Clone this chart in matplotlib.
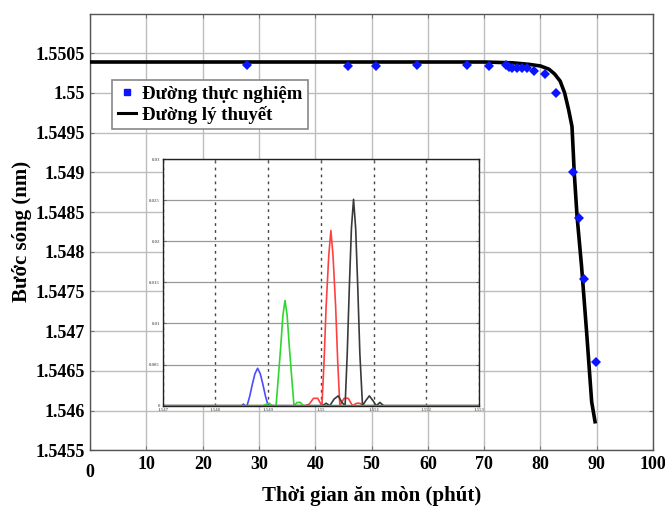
import matplotlib
matplotlib.use("Agg")
import matplotlib.pyplot as plt
from matplotlib.lines import Line2D

plt.rcParams["font.family"] = ["Liberation Serif", "DejaVu Serif"]
plt.rcParams["font.weight"] = "bold"

# Main chart: measured points (etching time, wavelength)
exp_time = [27.9, 45.8, 50.7, 58.0, 66.9, 70.9, 73.9, 74.4, 75.0, 75.9, 76.8,
            77.7, 78.9, 80.8, 82.8, 85.8, 86.9, 87.8, 89.9]
exp_wl = [1.55035, 1.55034, 1.55034, 1.55035, 1.55035, 1.55034, 1.55035, 1.55033,
          1.55032, 1.55032, 1.55031, 1.55031, 1.55028, 1.55024, 1.55000,
          1.54900, 1.54843, 1.54766, 1.54661]

# Theoretical curve
th_time = [0, 20, 40, 60, 70, 75, 78, 80, 81.5, 82.5, 83.5, 84.3, 85.0, 85.6,
           85.8, 86.0, 86.5, 87.3, 88.2, 89.1, 89.7]
th_wl = [1.55039, 1.55039, 1.55039, 1.55039, 1.55039, 1.55038, 1.55036, 1.55034,
         1.55030, 1.55024, 1.55015, 1.55000, 1.54979, 1.54958, 1.54930, 1.54900,
         1.54845, 1.54782, 1.54699, 1.54611, 1.54586]

x_ticks = [0, 10, 20, 30, 40, 50, 60, 70, 80, 90, 100]
y_ticks = [1.5455, 1.546, 1.5465, 1.547, 1.5475, 1.548, 1.5485, 1.549, 1.5495, 1.55, 1.5505]
y_ticklabels = ["1.5455", "1.546", "1.5465", "1.547", "1.5475", "1.548", "1.5485",
                "1.549", "1.5495", "1.55", "1.5505"]

# Inset: reflection spectra
blue_wl = [1.547, 1.5485, 1.54853, 1.54856, 1.5486, 1.54865, 1.5487, 1.54875, 1.5488,
           1.54885, 1.5489, 1.54895, 1.549, 1.553]
blue_amp = [0, 0, 0.0002, 0, 0, 0.00114, 0.0026, 0.0039, 0.00455,
            0.0039, 0.0026, 0.00114, 0, 0]

green_wl = [1.547, 1.5489, 1.54902, 1.54908, 1.54915, 1.54919, 1.54924, 1.54928, 1.54932,
            1.54936, 1.5494, 1.54945, 1.54949, 1.54955, 1.54961, 1.54967, 1.553]
green_amp = [0, 0, 0.0003, 0, 0, 0.0032, 0.0073, 0.011, 0.0128,
             0.011, 0.0073, 0.0032, 0, 0.0004, 0.0004, 0, 0]

red_wl = [1.547, 1.5497, 1.54978, 1.54986, 1.54994, 1.55002, 1.55006, 1.5501, 1.55015,
          1.55019, 1.55023, 1.55028, 1.55032, 1.55036, 1.55044, 1.55052, 1.5506,
          1.55068, 1.55074, 1.5508, 1.553]
red_amp = [0, 0, 0.0002, 0.0009, 0.0009, 0, 0.0053, 0.0121, 0.0183,
           0.0213, 0.0183, 0.0121, 0.0053, 0, 0.0009, 0.0009, 0, 0.0003, 0.0003, 0, 0]

black_wl = [1.547, 1.55003, 1.5501, 1.55017, 1.55025, 1.55033, 1.5504, 1.55046, 1.5505,
            1.55054, 1.55058, 1.55062, 1.55066, 1.5507, 1.55074, 1.55079, 1.55085,
            1.55092, 1.55099, 1.55105, 1.55112, 1.55119, 1.553]
black_amp = [0, 0, 0.0003, 0, 0.0008, 0.0012, 0.0004, 0, 0.0063,
             0.0144, 0.0216, 0.0251, 0.0216, 0.0144, 0.0063, 0, 0.0006,
             0.0012, 0.0006, 0, 0.0004, 0, 0]

inset_xticks = [1.547, 1.548, 1.549, 1.55, 1.551, 1.552, 1.553]
inset_xlabels = ["1.547", "1.548", "1.549", "1.55", "1.551", "1.552", "1.553"]
inset_yticks = [0, 0.005, 0.01, 0.015, 0.02, 0.025, 0.03]
inset_ylabels = ["0", "0.005", "0.01", "0.015", "0.02", "0.025", "0.03"]


fig = plt.figure(figsize=(6.65, 5.12), dpi=100)
ax = fig.add_axes([0.1355, 0.1205, 0.8465, 0.853])

ax.plot(th_time, th_wl, color="black", lw=2.6, zorder=3)
ax.plot(exp_time, exp_wl, linestyle="none", marker="D", markersize=5.5,
        color="#0a14ff", markeredgewidth=0, zorder=4)

ax.set_xlim(0, 100)
ax.set_ylim(1.5455, 1.551)
ax.set_xticks(x_ticks)
ax.set_yticks(y_ticks)
ax.set_yticklabels(y_ticklabels)
ax.grid(True, color="#bdbdbd", lw=1.0)
ax.tick_params(direction="in", length=3, color="#777777", top=True, right=True,
               labelsize=13, pad=4)
for lab in ax.get_xticklabels() + ax.get_yticklabels():
    lab.set_fontweight("bold")
ax.xaxis.get_major_ticks()[0].set_pad(10)
for sp in ax.spines.values():
    sp.set_color("#555555")
    sp.set_linewidth(1.0)

ax.set_xlabel("Thời gian ăn mòn (phút)", fontsize=15, fontweight="bold")
ax.xaxis.set_label_coords(0.5, -0.082)
ax.set_ylabel("Bước sóng (nm)", fontsize=15, fontweight="bold")
ax.yaxis.set_label_coords(-0.104, 0.5)

handles = [
    Line2D([], [], linestyle="none", marker="s", markersize=5, color="#0a14ff"),
    Line2D([], [], color="black", lw=2.2),
]
leg = ax.legend(handles, ["Đường thực nghiệm", "Đường lý thuyết"],
                loc="upper left", bbox_to_anchor=(112 / 665, 1 - 80 / 512),
                bbox_transform=fig.transFigure, borderaxespad=0,
                fancybox=False, framealpha=1, edgecolor="#888888",
                handlelength=1.0, handletextpad=0.3, borderpad=0.3,
                labelspacing=0.15, prop={"size": 13.5, "weight": "bold"})
leg.get_frame().set_linewidth(1.2)

# Inset spectra
ins = fig.add_axes([0.2447, 0.2076, 0.4756, 0.4818])
ins.set_facecolor("white")
ins.plot(blue_wl, blue_amp, color="#4b4bff", lw=1.2)
ins.plot(red_wl, red_amp, color="#ff4040", lw=1.2)
ins.plot(black_wl, black_amp, color="#3a3a3a", lw=1.2)
ins.plot(green_wl, green_amp, color="#2fd62f", lw=1.2)
ins.plot([1.547, 1.553], [0, 0], color="#3cbf3c", lw=2.2)
ins.set_xlim(1.547, 1.553)
ins.set_ylim(0, 0.03)
ins.set_xticks(inset_xticks)
ins.set_xticklabels(inset_xlabels)
ins.set_yticks(inset_yticks)
ins.set_yticklabels(inset_ylabels)
ins.tick_params(direction="in", length=2, labelsize=3.5, labelcolor="#777777",
                color="#666666", pad=2, top=True, right=True)
ins.xaxis.grid(True, color="#444444", linestyle=(0, (2, 3)), lw=1.0)
ins.yaxis.grid(True, color="#999999", lw=0.9)
for sp in ins.spines.values():
    sp.set_color("#222222")
    sp.set_linewidth(1.0)

fig.savefig("out.png", dpi=100)
